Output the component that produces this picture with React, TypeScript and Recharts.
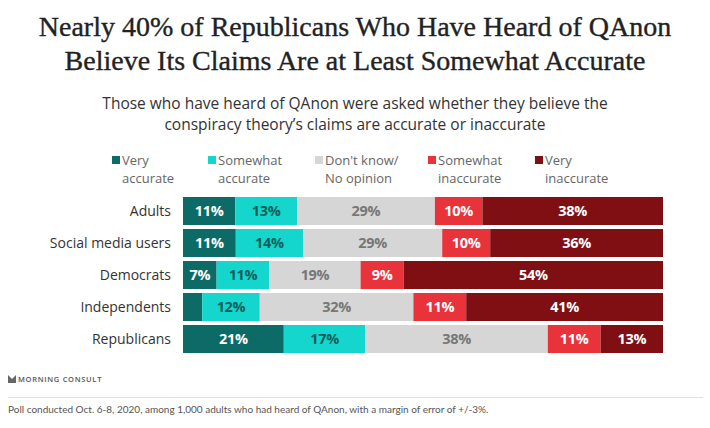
import { Bar, BarChart, LabelList, XAxis, YAxis } from 'recharts'

const groups = ['Adults', 'Social media users', 'Democrats', 'Independents', 'Republicans']
const veryAccurate = [11, 11, 7, 4, 21]
const somewhatAccurate = [13, 14, 11, 12, 17]
const dontKnow = [29, 29, 19, 32, 38]
const somewhatInaccurate = [10, 10, 9, 11, 11]
const veryInaccurate = [38, 36, 54, 41, 13]

const series = [
	{ key: 'va', name: ['Very', 'accurate'], fill: '#0c6b66', text: '#ffffff', values: veryAccurate },
	{ key: 'sa', name: ['Somewhat', 'accurate'], fill: '#14d6cc', text: '#0c5f5a', values: somewhatAccurate },
	{ key: 'dk', name: ["Don't know/", 'No opinion'], fill: '#d6d6d6', text: '#777777', values: dontKnow },
	{ key: 'si', name: ['Somewhat', 'inaccurate'], fill: '#e8333b', text: '#ffffff', values: somewhatInaccurate },
	{ key: 'vi', name: ['Very', 'inaccurate'], fill: '#7f0f13', text: '#ffffff', values: veryInaccurate },
]

const legendX = [112, 208, 315, 428, 535]

const rows = groups.map((g, i) => {
	const row: Record<string, string | number> = { group: g }
	series.forEach((s) => (row[s.key] = s.values[i]))
	return row
})

const sans = '"Open Sans", Lato, sans-serif'

function makeLabel(color: string) {
	return (props: any) => {
		const { x, y, width, height, value } = props
		if (value < 5) return null
		return (
			<text
				x={x + width / 2}
				y={y + height / 2}
				dy="0.36em"
				textAnchor="middle"
				fill={color}
				fontFamily={sans}
				fontWeight={700}
				fontSize={14.5}
				letterSpacing={-0.3}
			>
				{value}%
			</text>
		)
	}
}

export default function App() {
	return (
		<div style={{ position: 'absolute', left: 0, top: 0, width: 710, height: 428, background: '#fff', fontFamily: sans, overflow: 'hidden' }}>
			<div style={{ position: 'absolute', top: 10, left: 0, width: 710, textAlign: 'center', fontFamily: '"Liberation Serif", serif', fontSize: 28, lineHeight: '34px', color: '#222', WebkitTextStroke: '0.35px #222' }}>
				Nearly 40% of Republicans Who Have Heard of QAnon
				<br />
				Believe Its Claims Are at Least Somewhat Accurate
			</div>
			<div style={{ position: 'absolute', top: 93, left: 0, width: 710, textAlign: 'center', fontSize: 15.5, lineHeight: '21px', color: '#333' }}>
				Those who have heard of QAnon were asked whether they believe the
				<br />
				conspiracy theory’s claims are accurate or inaccurate
			</div>
			{series.map((s, i) => (
				<div key={s.key} style={{ position: 'absolute', top: 151, left: legendX[i], fontSize: 13, lineHeight: '18px', color: '#666' }}>
					<span style={{ position: 'absolute', left: 0, top: 5, width: 8, height: 8, background: s.fill }} />
					<div style={{ marginLeft: 10 }}>
						{s.name[0]}
						<br />
						{s.name[1]}
					</div>
				</div>
			))}
			<div style={{ position: 'absolute', top: 0, left: 0 }}>
				<BarChart
					width={710}
					height={428}
					data={rows}
					layout="vertical"
					stackOffset="expand"
					barCategoryGap={2}
					margin={{ top: 195, right: 47, bottom: 73, left: 0 }}
				>
					<XAxis type="number" hide domain={[0, 1]} />
					<YAxis
						type="category"
						dataKey="group"
						width={183}
						axisLine={false}
						tickLine={false}
						tickSize={0}
						tickMargin={12}
						tick={{ fill: '#333', fontSize: 14, fontFamily: sans }}
					/>
					{series.map((s) => (
						<Bar key={s.key} dataKey={s.key} stackId="a" fill={s.fill} isAnimationActive={false}>
							<LabelList dataKey={s.key} content={makeLabel(s.text)} />
						</Bar>
					))}
				</BarChart>
			</div>
			<div style={{ position: 'absolute', top: 374, left: 8, display: 'flex', alignItems: 'center', color: '#555' }}>
				<svg width={8} height={8} viewBox="0 0 9 9" style={{ marginRight: 2 }}>
					<path d="M0 0 L4.5 4.5 L9 0 L9 9 L0 9 Z" fill="#666" />
				</svg>
				<span style={{ fontSize: 7.5, fontWeight: 600, letterSpacing: 0.7 }}>MORNING CONSULT</span>
			</div>
			<div style={{ position: 'absolute', top: 397, left: 8, width: 695, height: 1, background: '#e0e0e0' }} />
			<div style={{ position: 'absolute', top: 403, left: 8, fontSize: 10, color: '#555', fontFamily: 'Lato, sans-serif' }}>
				Poll conducted Oct. 6-8, 2020, among 1,000 adults who had heard of QAnon, with a margin of error of +/-3%.
			</div>
		</div>
	)
}
